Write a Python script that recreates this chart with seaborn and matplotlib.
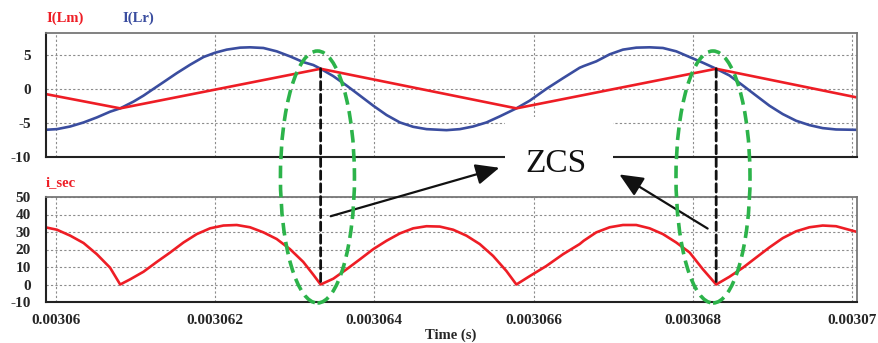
import matplotlib
matplotlib.use("Agg")
import matplotlib.pyplot as plt
import numpy as np
import pandas as pd
import seaborn as sns
from matplotlib.patches import Ellipse, Rectangle, ConnectionPatch
from matplotlib.transforms import blended_transform_factory

# ---- waveform samples (time in microseconds after 3.06 ms) ----
T0 = 3.06e-3

# magnetizing current I(Lm): triangular
lm_t_us = [-0.134, 0.807, 3.325, 5.784, 8.294, 10.05]
lm_amp = [-0.75, -2.86, 2.95, -2.86, 2.95, -1.23]

# resonant current I(Lr)
lr_t_us = [-0.134, 0.0125, 0.18, 0.347, 0.514, 0.68, 0.807, 0.974, 1.10, 1.225,
           1.35, 1.518, 1.685, 1.853, 2.0, 2.146, 2.313, 2.438, 2.606, 2.773,
           2.94, 3.107, 3.233, 3.325, 3.484, 3.651, 3.819, 3.986, 4.153, 4.321,
           4.488, 4.655, 4.906, 5.074, 5.241, 5.408, 5.575, 5.784, 5.952, 6.161,
           6.37, 6.579, 6.63, 6.788, 6.956, 7.123, 7.29, 7.458, 7.625, 7.792,
           7.96, 8.127, 8.294, 8.46, 8.63, 8.796, 8.963, 9.13, 9.298, 9.465,
           9.632, 9.8, 10.05]
lr_amp = [-6.01, -5.91, -5.52, -4.93, -4.19, -3.35, -2.86, -1.87, -0.99, 0.0,
          0.98, 2.31, 3.54, 4.67, 5.31, 5.76, 6.05, 6.1, 6.0, 5.51,
          4.77, 3.93, 3.5, 2.95, 1.87, 0.49, -0.99, -2.47, -3.84, -4.93,
          -5.57, -5.91, -6.06, -5.91, -5.52, -4.93, -4.04, -2.86, -1.73, 0.0,
          1.57, 3.1, 3.35, 4.04, 5.07, 5.76, 6.05, 6.1, 6.0, 5.51,
          4.67, 3.84, 2.95, 1.97, 0.49, -0.99, -2.47, -3.7, -4.68, -5.32,
          -5.76, -5.96, -6.01]

# secondary current i_sec: rectified
isec_t_us = [-0.134, 0.0125, 0.18, 0.347, 0.514, 0.68, 0.807, 0.93, 1.10, 1.267,
             1.435, 1.602, 1.769, 1.936, 2.104, 2.271, 2.438, 2.606, 2.773, 2.94,
             3.107, 3.233, 3.325, 3.484, 3.651, 3.819, 3.986, 4.153, 4.321, 4.488,
             4.655, 4.822, 4.99, 5.157, 5.324, 5.492, 5.659, 5.784, 5.952, 6.161,
             6.37, 6.579, 6.63, 6.788, 6.956, 7.123, 7.29, 7.458, 7.625, 7.792,
             7.96, 8.127, 8.294, 8.46, 8.63, 8.796, 8.963, 9.13, 9.298, 9.465,
             9.632, 9.8, 10.05]
isec_amp = [32.7, 31.3, 27.9, 23.7, 17.3, 9.6, 0.0, 2.9, 7.3, 12.9,
            18.3, 24.0, 28.8, 32.1, 33.7, 34.0, 32.7, 29.8, 26.0, 20.2,
            12.9, 5.6, 0.0, 3.3, 8.7, 14.4, 20.2, 25.0, 29.2, 32.1,
            33.3, 33.1, 31.3, 27.9, 23.1, 16.3, 7.7, 0.0, 4.8, 10.6,
            17.3, 23.1, 25.0, 29.8, 32.7, 34.0, 34.0, 32.1, 28.8, 24.0,
            18.3, 8.7, 0.0, 4.4, 9.6, 15.4, 21.2, 26.5, 30.4, 32.7,
            33.7, 33.3, 30.2]

# zero-current-switching instants (peak of I(Lm), zero of i_sec)
zcs_t_us = [3.325, 8.294]
zcs_lm_amp = [2.95, 2.95]

xticks = [0.00306, 0.003062, 0.003064, 0.003066, 0.003068, 0.00307]
xtick_labels = ["0.00306", "0.003062", "0.003064", "0.003066", "0.003068", "0.00307"]
top_yticks = [-10, -5, 0, 5]
bot_yticks = [-10, 0, 10, 20, 30, 40, 50]

RED = "#ee1d25"
BLUE = "#3a4d9f"
GREEN = "#2cb34a"


def to_s(us):
    return [T0 + u * 1e-6 for u in us]


lm_df = pd.DataFrame({"t": to_s(lm_t_us), "v": lm_amp})
lr_df = pd.DataFrame({"t": to_s(lr_t_us), "v": lr_amp})
isec_df = pd.DataFrame({"t": to_s(isec_t_us), "v": isec_amp})

sns.set_style("white")
plt.rcParams["font.family"] = ["Liberation Serif", "DejaVu Serif"]

fig = plt.figure(figsize=(8.79, 3.43), dpi=100)
ax1 = fig.add_axes([46 / 879, 1 - 157 / 343, 811 / 879, 124 / 343])
ax2 = fig.add_axes([46 / 879, 1 - 302 / 343, 811 / 879, 105 / 343], sharex=ax1)

sns.lineplot(data=lr_df, x="t", y="v", ax=ax1, color=BLUE, lw=1.9,
             sort=False, estimator=None)
sns.lineplot(data=lm_df, x="t", y="v", ax=ax1, color=RED, lw=1.9,
             sort=False, estimator=None)
sns.lineplot(data=isec_df, x="t", y="v", ax=ax2, color=RED, lw=1.9,
             sort=False, estimator=None)

x_lo = T0 - 0.125e-6
x_hi = T0 + 10.063e-6
ax1.set_xlim(x_lo, x_hi)
ax1.set_ylim(-10, 8.2)
ax2.set_ylim(-10, 50)

for ax, yt in ((ax1, top_yticks), (ax2, bot_yticks)):
    ax.set_yticks(yt)
    ax.set_yticklabels([str(v) for v in yt], fontsize=11, fontweight="bold")
    ax.set_xlabel("")
    ax.set_ylabel("")
    ax.grid(True, color="#8c8c8c", lw=0.8, ls=(0, (2, 2)))
    ax.tick_params(axis="both", length=0, pad=11)
    for side in ("left", "bottom"):
        ax.spines[side].set_color("#222222")
        ax.spines[side].set_linewidth(1.5)
    for side in ("top", "right"):
        ax.spines[side].set_color("#777777")
        ax.spines[side].set_linewidth(1.3)

ax2.set_xticks(xticks)
ax2.set_xticklabels(xtick_labels, fontsize=11, fontweight="bold")
ax2.tick_params(axis="x", pad=9)
plt.setp(ax1.get_xticklabels(), visible=False)
ax2.set_xlabel("")
fig.text(451 / 879, 1 - 335 / 343, "Time (s)", fontsize=10.5,
         fontweight="bold", ha="center", va="center")

# trace names
fig.text(46 / 879, 1 - 18 / 343, "I(Lm)", color=RED, fontsize=10.5,
         fontweight="bold", ha="left", va="center")
fig.text(122 / 879, 1 - 18 / 343, "I(Lr)", color=BLUE, fontsize=10.5,
         fontweight="bold", ha="left", va="center")
fig.text(46 / 879, 1 - 183 / 343, "i_sec", color=RED, fontsize=10.5,
         fontweight="bold", ha="left", va="center")

# white label area for the ZCS callout
fig.add_artist(Rectangle((505 / 879, 1 - 196 / 343), 108 / 879, 79 / 343,
                         transform=fig.transFigure, facecolor="white",
                         edgecolor="none", zorder=5))
fig.text(556 / 879, 1 - 164 / 343, "ZCS", fontsize=24, ha="center",
         va="center", color="#111111", zorder=6)

# ZCS markers: dashed drop lines and green dashed ellipses
blend = blended_transform_factory(ax2.transData, fig.transFigure)
for t_us, a in zip(zcs_t_us, zcs_lm_amp):
    t = T0 + t_us * 1e-6
    con = ConnectionPatch(xyA=(t, a), coordsA=ax1.transData,
                          xyB=(t, 0), coordsB=ax2.transData,
                          color="#111111", lw=2.0, ls=(0, (3, 1.6)), zorder=7)
    fig.add_artist(con)
    ell = Ellipse((t - 0.04e-6, 1 - 177 / 343), 0.93e-6, 252 / 343,
                  transform=blend, fill=False, edgecolor=GREEN, lw=2.6,
                  ls=(0, (3.5, 1.8)), zorder=8)
    fig.add_artist(ell)

# arrows pointing at the label
arrow_kw = dict(arrowstyle="-|>,head_length=0.9,head_width=0.4",
                color="#111111", lw=1.6, mutation_scale=16)
ax2.annotate("", xy=(502 / 879, 1 - 167 / 343), xycoords="figure fraction",
             xytext=(328 / 879, 1 - 217 / 343), textcoords="figure fraction",
             arrowprops=arrow_kw, annotation_clip=False, zorder=9)
ax2.annotate("", xy=(617 / 879, 1 - 173 / 343), xycoords="figure fraction",
             xytext=(710 / 879, 1 - 230 / 343), textcoords="figure fraction",
             arrowprops=arrow_kw, annotation_clip=False, zorder=9)

fig.savefig("out.png", dpi=100, facecolor="white")
